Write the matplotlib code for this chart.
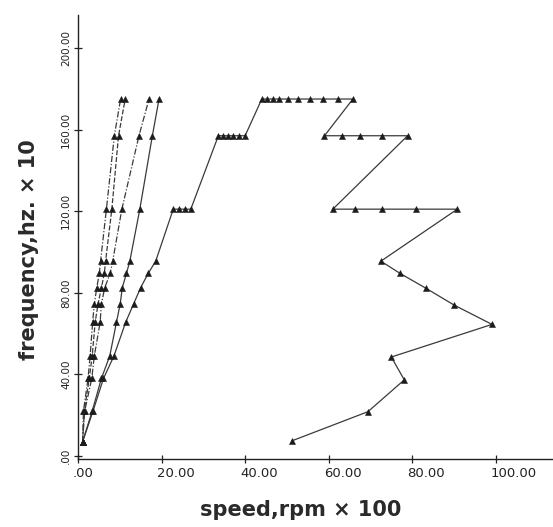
import matplotlib.pyplot as plt
from matplotlib.transforms import ScaledTranslation

# frequency rows shared by the steep curves (hz x 10)
FREQ_LEVELS = [7.0, 22.0, 38.0, 49.0, 65.5, 74.5, 82.5, 89.5, 95.5, 121.0, 157.0, 175.0]

# speed (rpm x 100) of each steep curve at those rows
SPEED_A = [1.1, 1.3, 2.4, 2.9, 3.5, 3.9, 4.5, 5.1, 5.4, 6.8, 8.7, 10.2]
SPEED_B = [1.1, 1.5, 2.7, 3.4, 4.1, 4.8, 5.6, 6.3, 6.6, 8.1, 9.7, 11.3]
SPEED_C = [1.1, 1.6, 3.3, 3.9, 5.3, 5.6, 6.4, 7.7, 8.3, 10.5, 14.6, 17.0]
SPEED_D = [1.1, 3.4, 5.6, 7.6, 9.2, 10.1, 10.6, 11.6, 12.4, 14.8, 17.8, 19.4]

# the long curve: climbs, runs across the top rows, then zigzags back down
SPEED_E = [1.1, 3.6, 6.1, 8.6, 11.4, 13.3, 15.0, 16.8, 18.6,
           22.8, 24.2, 25.6, 27.0,
           33.6, 34.8, 36.0, 37.2, 38.6, 40.0,
           44.0, 45.3, 46.6, 48.2, 50.3, 52.7, 55.5, 58.6, 62.2, 65.8,
           59.0, 63.2, 67.6, 72.7, 78.9,
           61.0, 66.2, 72.8, 80.9, 90.8,
           72.5, 77.1, 83.3, 90.0, 99.1, 75.0, 78.1, 69.4, 51.2]
FREQ_E = [7.0, 22.0, 38.0, 49.0, 65.5, 74.5, 82.5, 89.5, 95.5,
          121.0, 121.0, 121.0, 121.0,
          157.0, 157.0, 157.0, 157.0, 157.0, 157.0,
          175.0, 175.0, 175.0, 175.0, 175.0, 175.0, 175.0, 175.0, 175.0, 175.0,
          157.0, 157.0, 157.0, 157.0, 157.0,
          121.0, 121.0, 121.0, 121.0, 121.0,
          95.5, 89.5, 82.2, 74.0, 64.5, 48.5, 37.3, 21.7, 7.4]

X_TICKS = [0, 20, 40, 60, 80, 100]
Y_TICKS = [0, 40, 80, 120, 160, 200]

W, H = 553, 527
LINE_COLOR = "#3a3a3a"
MARK_COLOR = "#1c1c1c"


def tick_text(v):
    # plotter style labels: ".00", "20.00", "100.00"
    return f"{v:.2f}".lstrip("0")


fig = plt.figure(figsize=(W / 100, H / 100), dpi=100)
fig.patch.set_facecolor("white")
ax = fig.add_axes([78 / W, (H - 459) / H, (W - 78) / W, (459 - 15) / H])

curves = [
    (SPEED_A, FREQ_LEVELS, (0, (5, 1.5, 1, 1.5))),
    (SPEED_B, FREQ_LEVELS, (0, (4, 1.5))),
    (SPEED_C, FREQ_LEVELS, (0, (5, 1.5, 1, 1.5))),
    (SPEED_D, FREQ_LEVELS, "-"),
    (SPEED_E, FREQ_E, "-"),
]
for xs, ys, ls in curves:
    ax.plot(xs, ys, color=LINE_COLOR, lw=0.9, ls=ls, zorder=2)
    ax.plot(xs, ys, ls="none", marker="^", ms=5, mfc=MARK_COLOR,
            mec=MARK_COLOR, mew=0.4, zorder=3)

ax.set_xlim(0, 113.7)
ax.set_ylim(-1.5, 216.2)

for side in ("top", "right"):
    ax.spines[side].set_visible(False)
for side in ("left", "bottom"):
    ax.spines[side].set_color("#222222")
    ax.spines[side].set_linewidth(1.0)

ax.set_xticks(X_TICKS)
ax.set_xticklabels([tick_text(v) for v in X_TICKS], ha="left",
                   fontsize=9.5, color="#222222")
ax.set_yticks(Y_TICKS)
ax.set_yticklabels([tick_text(v) for v in Y_TICKS], rotation=90,
                   va="center", fontsize=7.5, color="#222222")
ax.tick_params(direction="inout", length=6, width=0.9, color="#222222")
ax.tick_params(axis="x", pad=3)
ax.tick_params(axis="y", pad=2)

# shift the x labels so they start just left of their tick
shift = ScaledTranslation(-5 / 100, 0, fig.dpi_scale_trans)
for lab in ax.get_xticklabels():
    lab.set_transform(lab.get_transform() + shift)

fig.text(301 / W, 1 - 510 / H, "speed,rpm × 100", ha="center", va="center",
         fontsize=15, fontweight="bold", color="#2a2a2a")
fig.text(29 / W, 1 - 250 / H, "frequency,hz. × 10", ha="center", va="center",
         rotation=90, fontsize=15, fontweight="bold", color="#2a2a2a")

fig.savefig("out.png", dpi=100, facecolor="white")
